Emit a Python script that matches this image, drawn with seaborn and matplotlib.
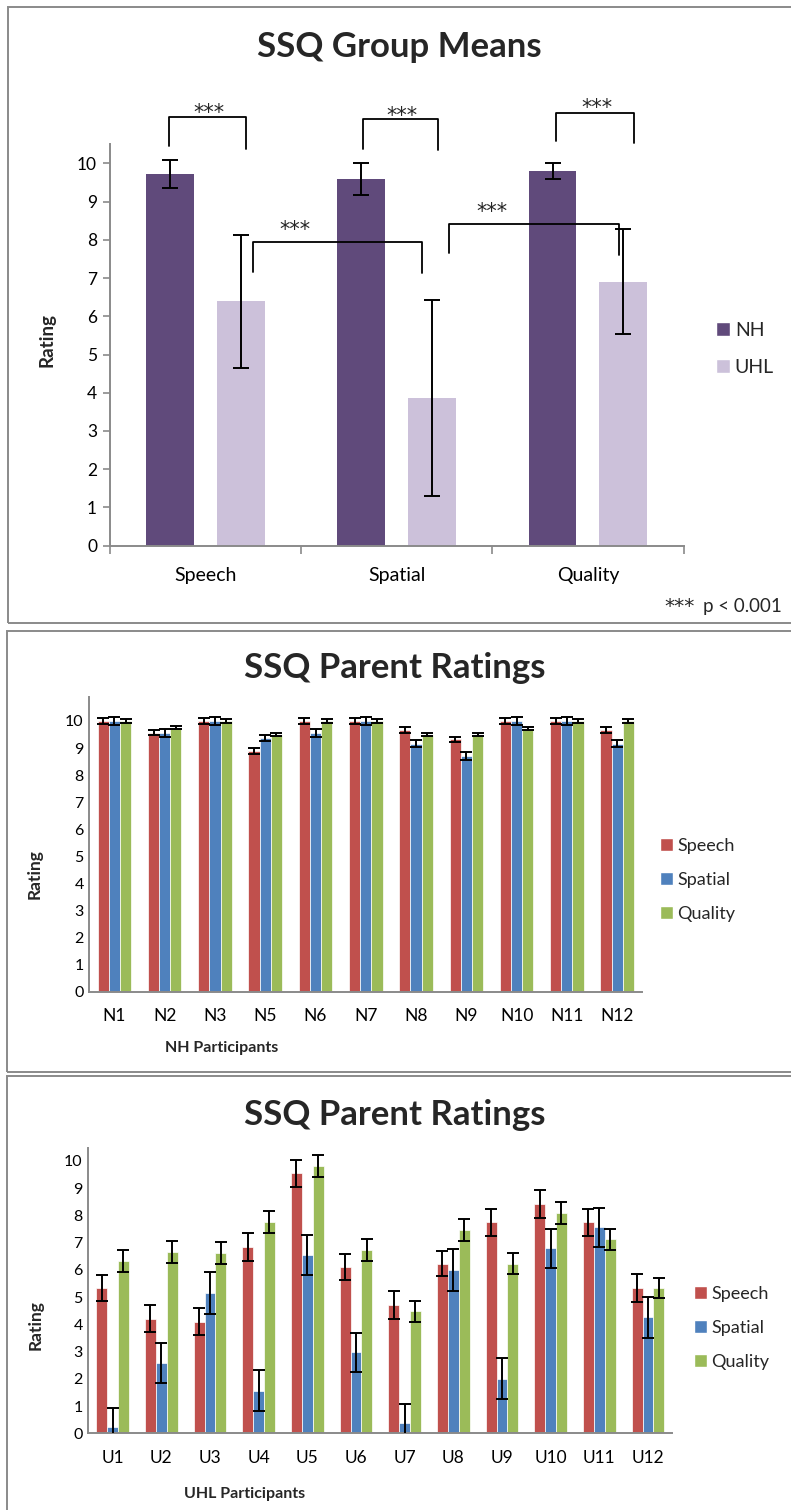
import numpy as np
import pandas as pd
import matplotlib
matplotlib.use("Agg")
import matplotlib.pyplot as plt
import seaborn as sns
from matplotlib.patches import Rectangle, Patch
from matplotlib.ticker import FixedLocator
from matplotlib.colors import to_rgb
from matplotlib.container import BarContainer

# ---------------- data ----------------
group_categories = ["Speech", "Spatial", "Quality"]
group_levels = ["NH", "UHL"]
nh_means = [9.72, 9.60, 9.81]
nh_err = [0.36, 0.42, 0.21]
uhl_means = [6.39, 3.86, 6.90]
uhl_err = [1.74, 2.56, 1.37]

series_names = ["Speech", "Spatial", "Quality"]

nh_participants = ["N1", "N2", "N3", "N5", "N6", "N7", "N8", "N9", "N10", "N11", "N12"]
nh_speech = [10.0, 9.57, 10.0, 8.89, 10.0, 10.0, 9.66, 9.32, 10.0, 10.0, 9.66]
nh_spatial = [10.0, 9.57, 10.0, 9.38, 9.56, 10.0, 9.16, 8.70, 10.0, 10.0, 9.16]
nh_quality = [10.0, 9.75, 10.0, 9.50, 10.0, 10.0, 9.50, 9.50, 9.72, 10.0, 10.0]
nh_speech_err = [0.10, 0.09, 0.10, 0.12, 0.10, 0.10, 0.10, 0.10, 0.10, 0.10, 0.10]
nh_spatial_err = [0.15, 0.15, 0.15, 0.11, 0.15, 0.15, 0.14, 0.14, 0.15, 0.15, 0.14]
nh_quality_err = [0.07, 0.05, 0.07, 0.05, 0.07, 0.07, 0.05, 0.05, 0.05, 0.07, 0.07]

uhl_participants = ["U1", "U2", "U3", "U4", "U5", "U6", "U7", "U8", "U9", "U10", "U11", "U12"]
uhl_speech = [5.34, 4.21, 4.10, 6.84, 9.55, 6.12, 4.71, 6.23, 7.75, 8.42, 7.75, 5.34]
uhl_spatial = [0.22, 2.58, 5.15, 1.57, 6.56, 2.97, 0.38, 6.00, 2.01, 6.79, 7.56, 4.26]
uhl_quality = [6.34, 6.67, 6.62, 7.75, 9.83, 6.73, 4.48, 7.47, 6.23, 8.09, 7.12, 5.34]
uhl_speech_err = [0.48, 0.50, 0.50, 0.50, 0.50, 0.48, 0.50, 0.47, 0.50, 0.50, 0.50, 0.50]
uhl_spatial_err = [0.72, 0.73, 0.76, 0.76, 0.73, 0.73, 0.71, 0.76, 0.75, 0.73, 0.73, 0.76]
uhl_quality_err = [0.40, 0.40, 0.39, 0.40, 0.40, 0.39, 0.39, 0.39, 0.39, 0.39, 0.39, 0.38]

# ---------------- style ----------------
sns.set_style("ticks")
plt.rcParams["font.family"] = ["Lato", "DejaVu Sans"]

GRAY = "#8a8a8a"
group_colors = ["#604A7B", "#CCC1DA"]
series_colors = ["#C0504D", "#4F81BD", "#9BBB59"]

W, H = 791, 1510
fig = plt.figure(figsize=(W / 100, H / 100), dpi=100)


def fx(px):
    return px / W


def fy(py):
    return 1 - py / H


def frame(x0, y0, x1, y1):
    fig.patches.append(Rectangle((fx(x0), fy(y1)), fx(x1 - x0), (y1 - y0) / H,
                                 transform=fig.transFigure, fill=False,
                                 edgecolor=GRAY, linewidth=1.4))


frame(8, 7, 800, 623)
frame(7, 631, 800, 1072)
frame(7, 1076, 800, 1530)


def long_df(cats, names, values):
    rows = []
    for name, vals in zip(names, values):
        for c, v in zip(cats, vals):
            rows.append((c, name, v))
    return pd.DataFrame(rows, columns=["cat", "series", "value"])


def add_errors(ax, colors, errs, lw=1.4, cap=4.5, clip=True):
    bars = [b for c in ax.containers if isinstance(c, BarContainer) for b in c]
    for bar in bars:
        fc = bar.get_facecolor()[:3]
        k = int(np.argmin([np.sum((np.array(fc) - np.array(to_rgb(c))) ** 2) for c in colors]))
        xc = bar.get_x() + bar.get_width() / 2
        i = int(round(xc))
        h = bar.get_height()
        eb = ax.errorbar(xc, h, yerr=errs[k][i], fmt="none", ecolor="black",
                         elinewidth=lw, capsize=cap, capthick=lw, zorder=5)
        for art in list(eb.lines[1]) + list(eb.lines[2]):
            art.set_clip_on(clip)


def style_axes(ax, ylim_top, ytick_size, xtick_size, ylen):
    ax.set_ylim(0, ylim_top)
    ax.set_yticks(range(0, 11))
    for s in ["top", "right"]:
        ax.spines[s].set_visible(False)
    for s in ["left", "bottom"]:
        ax.spines[s].set_color(GRAY)
        ax.spines[s].set_linewidth(1.4)
    ax.tick_params(axis="y", labelsize=ytick_size, length=ylen, width=1.2, color=GRAY,
                   direction="out", pad=4, labelcolor="black")
    ax.tick_params(axis="x", labelsize=xtick_size, length=0, labelcolor="black")
    ax.set_xlabel("")


# ---------------- panel 1 ----------------
ax1 = fig.add_axes([fx(109.5), fy(545.7), fx(574.1), 401.5 / H])
df1 = long_df(group_categories, group_levels, [nh_means, uhl_means])
sns.barplot(data=df1, x="cat", y="value", hue="series", order=group_categories,
            hue_order=group_levels, palette=group_colors, saturation=1,
            width=0.74, gap=0.324, errorbar=None, legend=False, ax=ax1,
            edgecolor="none")
add_errors(ax1, group_colors, [nh_err, uhl_err], lw=1.4, cap=6)
ax1.set_xlim(-0.5, 2.5)
style_axes(ax1, 10.5, 12.5, 14, 5)
ax1.tick_params(axis="x", pad=15)
ax1.xaxis.set_minor_locator(FixedLocator([-0.5, 0.5, 1.5, 2.5]))
ax1.tick_params(axis="x", which="minor", length=6, width=1.2, color=GRAY, direction="out")
ax1.set_ylabel("Rating", fontsize=13.5, fontweight="bold")
ax1.yaxis.label.set_va("center")
ax1.yaxis.set_label_coords(-0.109, 0.512)

# significance brackets (x, y of bracket ends / top, star centre)
brackets = [
    (-0.189, 0.214, 10.44, 10.38, 11.20, 0.02, 11.48),
    (0.826, 1.216, 10.38, 10.34, 11.17, 1.028, 11.41),
    (1.835, 2.239, 10.58, 10.53, 11.32, 2.047, 11.60),
    (0.249, 1.132, 7.16, 7.14, 7.95, 0.47, 8.42),
    (1.276, 2.162, 7.65, 7.60, 8.41, 1.50, 8.89),
]
for xl, xr, yl, yr, yt, xs, ys in brackets:
    ax1.plot([xl, xl, xr, xr], [yl, yt, yt, yr], color="black", lw=1.3,
             clip_on=False, zorder=6)
    ax1.text(xs, ys - 0.32, "***", ha="center", va="baseline", fontsize=15,
             family="DejaVu Sans", clip_on=False)

ax1.legend(handles=[Patch(facecolor=c) for c in group_colors], labels=group_levels,
           loc="center left", bbox_to_anchor=(fx(716), fy(349)),
           bbox_transform=fig.transFigure, frameon=False, fontsize=14,
           handlelength=0.72, handleheight=0.72, handletextpad=0.25,
           labelspacing=1.05, borderpad=0, borderaxespad=0)

fig.text(fx(399), fy(47), "SSQ Group Means", ha="center", va="center",
         fontsize=25, fontweight="bold")
fig.text(fx(664), fy(611.7), "***", ha="left", va="baseline", fontsize=14.5,
         family="DejaVu Sans")
fig.text(fx(782), fy(611.7), "p < 0.001", ha="right", va="baseline", fontsize=13.5)


# ---------------- panels 2 & 3 ----------------
def participant_panel(rect, cats, vals, errs, ylim_top, legend_xy, title_y,
                      xlabel, xlabel_xy, ylabel_xy):
    ax = fig.add_axes(rect)
    df = long_df(cats, series_names, vals)
    sns.barplot(data=df, x="cat", y="value", hue="series", order=cats,
                hue_order=series_names, palette=series_colors, saturation=1,
                width=0.667, errorbar=None, legend=False, ax=ax,
                edgecolor="white", linewidth=0.5)
    add_errors(ax, series_colors, errs, lw=1.4, cap=4.5)
    ax.set_xlim(-0.5, len(cats) - 0.5)
    style_axes(ax, ylim_top, 11.5, 12.5, 0)
    ax.tick_params(axis="x", pad=12)
    ax.yaxis.set_minor_locator(FixedLocator([0]))
    ax.tick_params(axis="y", which="minor", length=6, width=1.4, color=GRAY)
    ax.set_ylabel("Rating", fontsize=12.5, fontweight="bold")
    ax.yaxis.label.set_va("center")
    ax.yaxis.set_label_coords(*ylabel_xy)
    ax.set_xlabel(xlabel, fontsize=11.5, fontweight="bold")
    ax.xaxis.label.set_va("center")
    ax.xaxis.set_label_coords(*xlabel_xy)
    ax.legend(handles=[Patch(facecolor=c) for c in series_colors], labels=series_names,
              loc="center left", bbox_to_anchor=legend_xy,
              bbox_transform=fig.transFigure, frameon=False, fontsize=13,
              handlelength=0.72, handleheight=0.72, handletextpad=0.25,
              labelspacing=1.0, borderpad=0, borderaxespad=0)
    fig.text(fx(395), fy(title_y), "SSQ Parent Ratings", ha="center", va="center",
             fontsize=25, fontweight="bold")
    return ax


participant_panel([fx(89.3), fy(991.7), fx(553), 295.1 / H], nh_participants,
                  [nh_speech, nh_spatial, nh_quality],
                  [nh_speech_err, nh_spatial_err, nh_quality_err],
                  10.9, (fx(660), fy(880)), 668, "NH Participants",
                  (0.24, -0.19), (-0.098, 0.40))

participant_panel([fx(88.3), fy(1433.3), fx(584), 285.1 / H], uhl_participants,
                  [uhl_speech, uhl_spatial, uhl_quality],
                  [uhl_speech_err, uhl_spatial_err, uhl_quality_err],
                  10.47, (fx(694), fy(1328)), 1115, "UHL Participants",
                  (0.268, -0.212), (-0.091, 0.38))

fig.savefig("out.png", dpi=100)
